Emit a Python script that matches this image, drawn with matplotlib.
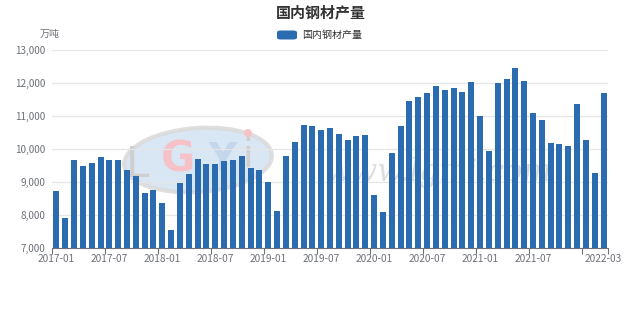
import matplotlib
matplotlib.use("Agg")
import matplotlib.pyplot as plt
from matplotlib.patches import Ellipse, FancyBboxPatch
from matplotlib.ticker import FuncFormatter

plt.rcParams['font.family'] = ['Noto Sans CJK SC', 'DejaVu Sans']

# Monthly steel output, 10k tonnes, 2017-01 .. 2022-03
months = [f"{y}-{m:02d}" for y in range(2017, 2023) for m in range(1, 13)][:63]
output = [
    8740, 7900, 9680, 9480, 9570, 9760, 9670, 9680, 9350, 9180, 8680, 8770,
    8360, 7540, 8980, 9230, 9710, 9540, 9560, 9630, 9680, 9800, 9420, 9360,
    9010, 8130, 9790, 10200, 10730, 10700, 10580, 10640, 10440, 10260, 10390, 10430,
    8620, 8080, 9880, 10700, 11450, 11580, 11690, 11910, 11800, 11840, 11730, 12040,
    11000, 9940, 12000, 12130, 12460, 12070, 11100, 10880, 10180, 10160, 10090, 11360,
    10280, 9280, 11690,
]
series_name = "国内钢材产量"
title = "国内钢材产量"
unit = "万吨"
label_idx = [0, 6, 12, 18, 24, 30, 36, 42, 48, 54, 62]

bar_color = "#2b6cb0"
text_gray = "#6e7079"

fig = plt.figure(figsize=(6.4, 3.12), dpi=100)
ax = fig.add_axes([52/640, 1-248/312, 556/640, 198/312])

x = list(range(len(output)))
ax.bar(x, output, width=0.68, color=bar_color, zorder=3)

ax.set_xlim(-0.5, len(output)-0.5)
ax.set_ylim(7000, 13000)
ax.set_yticks(range(7000, 13001, 1000))
ax.yaxis.set_major_formatter(FuncFormatter(lambda v, p: f"{int(v):,}"))
ax.grid(axis='y', color="#e6e6e6", linewidth=0.9, zorder=0)
ax.tick_params(axis='y', length=0, labelsize=7.2, labelcolor=text_gray, pad=5)

# ticks on band boundaries every 6 months, labels at band centres
ax.set_xticks([i - 0.5 for i in range(0, len(output), 6)] + [len(output)-0.5], minor=False)
ax.set_xticklabels([])
ax.tick_params(axis='x', which='major', length=4, color=text_gray, width=0.8)
ax.set_xticks(label_idx, minor=True)
ax.set_xticklabels([months[i] for i in label_idx], minor=True)
ax.tick_params(axis='x', which='minor', length=0, labelsize=7.3, labelcolor=text_gray, pad=4)

for s in ['top', 'right', 'left']:
    ax.spines[s].set_visible(False)
ax.spines['bottom'].set_color(text_gray)
ax.spines['bottom'].set_linewidth(0.8)

# faint logo watermark behind the bars
wm = fig.add_axes([0, 0, 1, 1], zorder=-1)
wm.set_xlim(0, 640); wm.set_ylim(312, 0); wm.axis('off')
ax.set_zorder(1); ax.patch.set_alpha(0)
wm.add_patch(Ellipse((198, 160), 148, 64, angle=-4, facecolor="#d3e2f1", edgecolor="#dadada",
                     linewidth=3, alpha=0.85))
wm.text(138, 165, "L", fontsize=30, color="#cfcfcf", ha='center', va='center', family='DejaVu Sans')
wm.text(178, 160, "G", fontsize=30, color="#f6c2c8", ha='center', va='center', family='DejaVu Sans', fontweight='bold')
wm.text(222, 160, "Y", fontsize=28, color="#c4d6ea", ha='center', va='center', family='DejaVu Sans', fontweight='bold')
wm.text(248, 156, "i", fontsize=28, color="#cfcfcf", ha='center', va='center', family='DejaVu Sans')
wm.add_patch(Ellipse((248, 133), 8, 8, facecolor="#f6c2c8", edgecolor='none'))
wm.text(325, 172, "www.lgmi.com", fontsize=22, color="#dedede", ha='left', va='center',
        style='italic', family='DejaVu Serif')

fig.text(321/640, 1-12.5/312, title, ha='center', va='center', fontsize=10.8,
         fontweight='bold', color="#333333")
fig.patches.append(FancyBboxPatch((277/640, 1-39.5/312), 20/640, 9/312,
                                  boxstyle="round,pad=0,rounding_size=0.006",
                                  transform=fig.transFigure, facecolor=bar_color, edgecolor='none'))
fig.text(302/640, 1-35/312, series_name, ha='left', va='center', fontsize=7.2, color="#333333")
fig.text(50/640, 1-34/312, unit, ha='center', va='center', fontsize=7.2, color=text_gray)

fig.savefig("out.png", dpi=100, facecolor='white')
